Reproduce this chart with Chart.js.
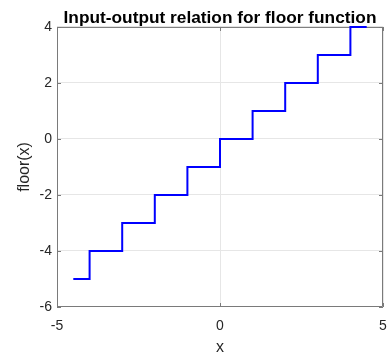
<!DOCTYPE html>
<html>
<head>
<meta charset="utf-8">
<script src="https://cdn.jsdelivr.net/npm/chart.js@4"></script>
<style>
html,body{margin:0;padding:0;background:#fff;}
#wrap{width:387px;height:352px;position:relative;}
</style>
</head>
<body>
<div id="wrap"><canvas id="c" width="387" height="352"></canvas></div>
<script>
// Data (floor(x) over x in [-4.5, 4.5])
const xValues = [-4.5, -4, -3, -2, -1, 0, 1, 2, 3, 4, 4.5];
const yValues = [-5, -4, -3, -2, -1, 0, 1, 2, 3, 4, 4];
const xTicks = [-5, 0, 5];
const yTicks = [-6, -4, -2, 0, 2, 4];
const titleText = 'Input-output relation for floor function';
const xLabel = 'x';
const yLabel = 'floor(x)';

const FONT = "'Liberation Sans', Arial, Helvetica, sans-serif";
const AXIS = '#262626';

const points = xValues.map((x, i) => ({x: x, y: yValues[i]}));

const boxTicks = {
  id: 'boxTicks',
  beforeDatasetsDraw(chart) {
    const ctx = chart.ctx;
    const a = chart.chartArea;
    const xs = chart.scales.x, ys = chart.scales.y;
    ctx.save();
    ctx.strokeStyle = '#7a7a7a';
    ctx.lineWidth = 1;
    ctx.beginPath();
    ctx.moveTo(a.left + 0.5, a.top + 0.5);
    ctx.lineTo(a.right - 0.5, a.top + 0.5);
    ctx.lineTo(a.right - 0.5, a.bottom - 0.5);
    ctx.lineTo(a.left + 0.5, a.bottom - 0.5);
    ctx.closePath();
    const L = 4;
    xTicks.forEach(v => {
      const px = Math.round(xs.getPixelForValue(v)) + 0.5;
      ctx.moveTo(px, a.bottom);
      ctx.lineTo(px, a.bottom - L);
      ctx.moveTo(px, a.top);
      ctx.lineTo(px, a.top + L);
    });
    yTicks.forEach(v => {
      const py = Math.round(ys.getPixelForValue(v)) + 0.5;
      ctx.moveTo(a.left, py);
      ctx.lineTo(a.left + L, py);
      ctx.moveTo(a.right, py);
      ctx.lineTo(a.right - L, py);
    });
    ctx.stroke();
    ctx.restore();
  }
};

new Chart(document.getElementById('c'), {
  type: 'line',
  data: {
    datasets: [{
      data: points,
      stepped: 'before',
      borderColor: '#0000ff',
      borderWidth: 2,
      pointRadius: 0,
      fill: false,
      clip: 3
    }]
  },
  options: {
    responsive: false,
    animation: false,
    layout: {padding: {left: 0, right: 4, top: 0, bottom: 0}},
    plugins: {
      legend: {display: false},
      tooltip: {enabled: false},
      title: {
        display: true,
        text: titleText,
        fullSize: false,
        color: '#000',
        font: {family: FONT, size: 17.3, weight: 'bold'},
        padding: {top: 8, bottom: -1.8}
      }
    },
    scales: {
      x: {
        type: 'linear',
        min: -5, max: 5,
        afterBuildTicks: s => { s.ticks = xTicks.map(v => ({value: v})); },
        afterFit: s => { s.height = 45; s.paddingRight = 0; s.paddingLeft = 0; },
        grid: {color: '#e6e6e6', drawTicks: false, lineWidth: 1},
        border: {display: false},
        ticks: {color: AXIS, font: {family: FONT, size: 14}, padding: 11, maxRotation: 0},
        title: {display: true, text: xLabel, color: AXIS, font: {family: FONT, size: 16}, padding: {top: 0, bottom: -5}}
      },
      y: {
        type: 'linear',
        min: -6, max: 4,
        afterBuildTicks: s => { s.ticks = yTicks.map(v => ({value: v})); },
        afterFit: s => { s.width = 57; s.paddingTop = 0; s.paddingBottom = 0; },
        grid: {color: '#e6e6e6', drawTicks: false, lineWidth: 1},
        border: {display: false},
        ticks: {color: AXIS, font: {family: FONT, size: 14}, padding: 5},
        title: {display: true, text: yLabel, color: AXIS, font: {family: FONT, size: 16}, padding: {top: 15, bottom: 0}}
      }
    }
  },
  plugins: [boxTicks]
});
</script>
</body>
</html>
